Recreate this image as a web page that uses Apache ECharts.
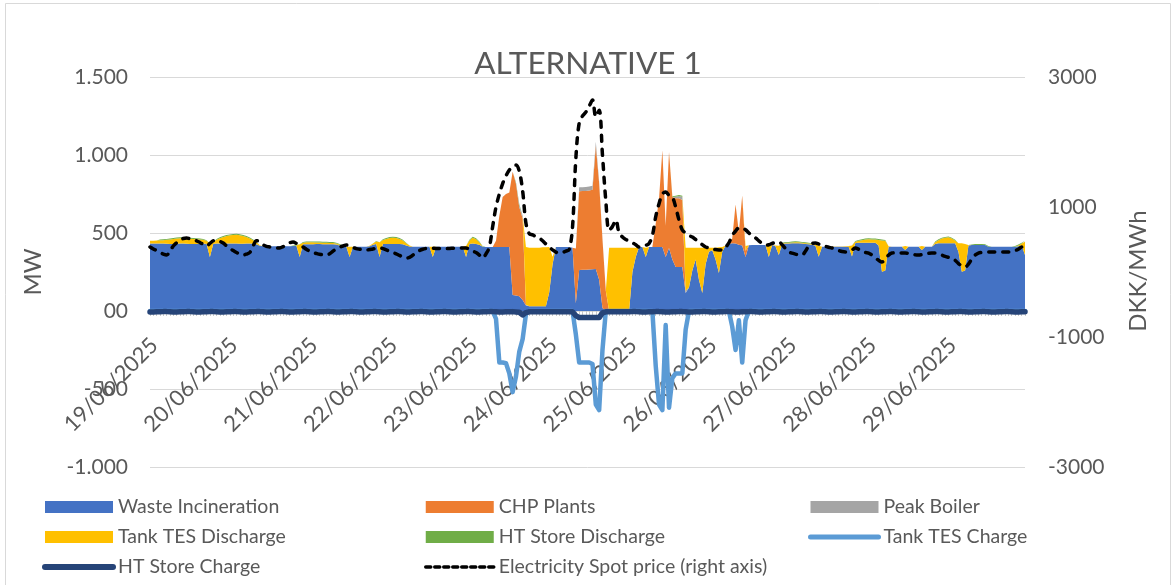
<!DOCTYPE html>
<html><head><meta charset="utf-8">
<script src="https://cdn.jsdelivr.net/npm/echarts@6/dist/echarts.min.js"></script>
<style>html,body{margin:0;padding:0;background:#fff}#c{width:1176px;height:585px}</style>
</head><body><div id="c"></div>
<script>
// ---- DATA (hourly, 19/06/2025 00:00 .. 29/06/2025 23:00) ----
const dates = ['19/06/2025','20/06/2025','21/06/2025','22/06/2025','23/06/2025','24/06/2025','25/06/2025','26/06/2025','27/06/2025','28/06/2025','29/06/2025'];
const leftTicks = [-1000,-500,0,500,1000,1500];
const rightTicks = [-3000,-1000,1000,3000];

const wasteIncineration = [
432,432,433,433,432,431,430,430,431,432,432,431,430,430,430,431,432,430,346,430,432,432,433,433,
433,432,432,431,431,432,432,431,428,418,415,414,414,415,415,416,416,415,415,416,418,346,428,428,
428,428,429,429,428,428,428,428,426,420,415,412,346,412,412,412,412,412,415,425,430,346,430,430,
430,430,430,430,428,420,414,412,412,412,412,412,412,346,412,412,412,412,412,412,412,412,414,346,
430,432,430,425,412,410,410,410,410,410,410,410,410,103,100,95,70,35,30,30,30,30,30,30,
120,300,410,410,410,410,410,405,50,263,264,265,266,268,270,200,20,0,0,0,0,0,0,0,
0,250,346,410,410,346,410,410,410,410,410,346,404,330,282,282,282,115,150,260,330,200,115,300,
380,390,330,243,380,420,430,435,432,425,420,346,422,423,423,423,423,423,346,423,415,359,430,432,
432,434,435,434,432,430,428,425,418,348,412,412,412,412,412,412,412,412,412,350,436,438,438,438,
438,438,438,420,252,260,412,412,412,412,412,391,412,412,412,412,391,412,412,412,430,434,434,434,
434,434,434,380,252,260,420,423,423,423,423,423,412,412,412,412,412,412,412,412,412,415,420,359];

const chpPlants = [
0,0,0,0,0,0,0,0,0,0,0,0,0,0,0,0,0,0,0,0,0,0,0,0,
0,0,0,0,0,0,0,0,0,0,0,0,0,0,0,0,0,0,0,0,0,0,0,0,
0,0,0,0,0,0,0,0,0,0,0,0,0,0,0,0,0,0,0,0,0,0,0,0,
0,0,0,0,0,0,0,0,0,0,0,0,0,0,0,0,0,0,0,0,0,0,0,0,
0,0,0,0,0,0,0,0,40,200,320,340,350,790,715,570,525,0,0,0,0,0,0,0,
0,0,0,0,0,0,0,0,350,505,505,505,507,510,790,620,440,130,0,0,0,0,0,0,
0,0,0,0,0,0,0,0,150,310,620,200,615,400,440,440,430,0,0,0,0,0,0,0,
0,0,0,0,0,0,0,30,250,80,320,40,0,0,0,0,0,0,0,0,0,0,0,0,
0,0,0,0,0,0,0,0,0,0,0,0,0,0,0,0,0,0,0,0,0,0,0,0,
0,0,0,0,0,0,0,0,0,0,0,0,0,0,0,0,0,0,0,0,0,0,0,0,
0,0,0,0,0,0,0,0,0,0,0,0,0,0,0,0,0,0,0,0,0,0,0,0];

const peakBoiler = [
0,0,0,0,0,0,0,0,0,0,0,0,0,0,0,0,0,0,0,0,0,0,0,0,
0,0,0,0,0,0,0,0,0,0,0,0,0,0,0,0,0,0,0,0,0,0,0,0,
0,0,0,0,0,0,0,0,0,0,0,0,0,0,0,0,0,0,0,0,0,0,0,0,
0,0,0,0,0,0,0,0,0,0,0,0,0,0,0,0,0,0,0,0,0,0,0,0,
0,0,0,0,0,0,0,0,0,0,0,0,0,0,5,15,15,5,0,0,0,0,0,0,
0,0,0,0,0,0,0,0,0,25,25,25,25,25,25,10,5,0,0,0,0,0,0,0,
0,0,0,0,0,0,0,0,0,0,0,0,0,0,10,15,20,15,0,0,0,0,0,0,
0,0,0,0,0,0,0,0,0,0,0,0,0,0,0,0,0,0,0,0,0,0,0,0,
0,0,0,0,0,0,0,0,0,0,0,0,0,0,0,0,0,0,0,0,0,0,0,0,
0,0,0,0,0,0,0,0,0,0,0,0,0,0,0,0,0,0,0,0,0,0,0,0,
0,0,0,0,0,0,0,0,0,0,0,0,0,0,0,0,0,0,0,0,0,0,0,0];

const tankTesDischarge = [
18,18,19,20,22,25,28,32,34,34,34,33,33,32,30,28,25,20,86,10,25,35,42,48,
52,55,57,55,50,42,33,22,12,4,0,0,0,0,0,0,0,0,0,0,2,82,10,12,
12,12,10,10,10,10,8,8,6,4,0,0,66,0,0,0,0,0,3,8,15,95,25,32,
38,40,38,32,24,14,6,0,0,0,0,0,0,66,0,0,0,0,0,0,0,0,0,70,
22,38,30,15,0,0,0,0,0,0,0,0,0,0,0,0,0,370,375,375,375,375,378,378,
290,48,0,0,0,0,0,0,0,0,0,0,0,0,0,0,0,0,405,405,405,405,405,405,
405,155,60,0,0,60,0,0,0,0,0,0,0,0,0,0,0,275,255,145,75,205,290,105,
25,15,75,165,30,0,0,0,0,0,0,30,0,0,0,0,0,0,70,0,5,60,3,5,
5,5,6,6,5,5,4,5,8,70,0,0,2,2,2,2,2,3,5,70,8,12,16,20,
22,20,20,35,200,190,3,0,0,0,0,25,0,0,0,0,25,0,0,0,10,20,30,35,
38,30,18,55,182,170,3,0,0,0,0,0,0,0,0,0,0,0,0,0,0,5,12,85];

const htStoreDischarge = [
0,0,0,5,6,6,6,6,6,6,6,6,6,6,6,5,5,4,0,3,5,6,6,6,
6,6,6,6,6,6,6,5,4,0,0,0,0,0,0,0,0,0,0,4,5,0,5,6,
6,6,6,6,6,6,6,6,5,5,4,0,0,0,0,0,0,0,0,0,4,0,5,6,
6,6,6,6,5,4,0,0,0,0,0,0,0,0,0,0,0,0,0,0,0,0,0,0,
5,6,6,5,3,0,0,0,0,0,0,0,0,0,6,6,0,0,0,0,0,0,0,0,
0,0,0,0,0,0,0,0,0,0,0,0,0,0,0,0,0,0,0,0,0,0,0,0,
0,0,0,0,0,0,0,0,0,0,0,0,0,6,6,6,6,0,0,0,0,0,0,0,
0,0,0,0,0,0,0,0,0,0,0,0,0,0,0,0,0,0,0,0,0,0,4,5,
6,6,6,6,6,5,5,4,0,0,0,0,0,0,0,0,0,0,0,0,4,5,6,6,
6,6,6,6,6,5,0,0,0,0,0,0,0,0,0,0,0,0,0,0,5,6,6,6,
6,6,5,0,0,0,0,4,6,6,6,5,4,0,0,0,0,0,0,0,4,6,6,6];

const tankTesCharge = [
0,0,0,0,0,0,0,0,0,0,0,0,0,0,0,0,0,0,0,0,0,0,0,0,
0,0,0,0,0,0,0,0,0,0,0,0,0,0,0,0,0,0,0,0,0,0,0,0,
0,0,0,0,0,0,0,0,0,0,0,0,0,0,0,0,0,0,0,0,0,0,0,0,
0,0,0,0,0,0,0,0,0,0,0,0,0,0,0,0,0,0,0,0,0,0,0,0,
0,0,0,0,0,0,0,0,-50,-330,-330,-335,-400,-520,-420,-260,-180,-20,0,0,0,0,0,0,
0,0,0,0,0,0,0,0,-150,-330,-330,-330,-330,-340,-600,-635,-250,0,0,0,0,0,0,0,
0,0,0,0,0,0,0,0,-350,-600,-635,-90,-620,-430,-400,-400,-400,-120,0,0,0,0,0,0,
0,0,0,0,0,0,0,-100,-250,-60,-330,-60,0,0,0,0,0,0,0,0,0,0,0,0,
0,0,0,0,0,0,0,0,0,0,0,0,0,0,0,0,0,0,0,0,0,0,0,0,
0,0,0,0,0,0,0,0,0,0,0,0,0,0,0,0,0,0,0,0,0,0,0,0,
0,0,0,0,0,0,0,0,0,0,0,0,0,0,0,0,0,0,0,0,0,0,0,0];

const htStoreCharge = [
-6,-6,-5,-5,-4,-4,-5,-6,-6,-5,-5,-4,-4,-5,-6,-6,-5,-5,-4,-4,-5,-6,-6,-5,
-5,-4,-4,-5,-6,-6,-5,-5,-4,-4,-5,-6,-6,-5,-5,-4,-4,-5,-6,-6,-5,-5,-4,-4,
-5,-6,-6,-5,-5,-4,-4,-5,-6,-6,-5,-5,-4,-4,-5,-6,-6,-5,-5,-4,-4,-5,-6,-6,
-5,-5,-4,-4,-5,-6,-6,-5,-5,-4,-4,-5,-6,-6,-5,-5,-4,-4,-5,-6,-6,-5,-5,-4,
-4,-5,-6,-6,-5,-5,-4,-4,-5,-6,-6,-5,-5,-4,-6,-8,-25,-10,-5,-5,-5,-5,-5,-5,
-5,-5,-5,-5,-5,-5,-5,-5,-30,-42,-42,-42,-42,-42,-42,-42,-12,-5,-5,-5,-5,-5,-5,-5,
-5,-4,-4,-5,-6,-6,-5,-5,-4,-4,-5,-6,-6,-5,-5,-4,-4,-5,-6,-6,-5,-5,-4,-4,
-5,-6,-6,-5,-5,-4,-4,-5,-6,-6,-5,-5,-4,-4,-5,-6,-6,-5,-5,-4,-4,-5,-6,-6,
-5,-5,-4,-4,-5,-6,-6,-5,-5,-4,-4,-5,-6,-6,-5,-5,-4,-4,-5,-6,-6,-5,-5,-4,
-4,-5,-6,-6,-5,-5,-4,-4,-5,-6,-6,-5,-5,-4,-4,-5,-6,-6,-5,-5,-4,-4,-5,-6,
-6,-5,-5,-4,-4,-5,-6,-6,-5,-5,-4,-4,-5,-6,-6,-5,-5,-4,-4,-5,-6,-6,-5,-5];

const spotPrice = [
385,355,330,300,275,262,320,400,450,490,515,523,510,495,480,455,425,400,440,480,492,470,446,400,
360,330,300,275,262,275,300,400,480,470,420,395,385,378,372,370,390,420,450,460,440,410,385,350,
320,300,285,272,265,262,280,320,355,380,400,415,400,378,360,350,342,338,345,355,362,369,360,340,
320,300,280,255,232,215,225,260,300,330,350,362,369,366,363,361,360,360,362,365,368,369,369,369,
345,320,300,260,215,280,385,700,1000,1200,1360,1480,1570,1620,1646,1550,1250,750,590,570,545,523,480,430,
385,340,305,292,300,320,345,692,1750,2292,2400,2460,2550,2646,2385,2490,1800,1100,640,700,800,600,540,500,
480,450,420,385,395,410,440,560,850,1050,1200,1231,1180,1154,1000,800,646,600,560,538,500,470,420,385,
369,355,345,340,338,380,450,560,630,677,677,650,600,560,525,480,440,415,420,440,455,462,420,360,
308,290,275,265,262,320,400,440,446,430,410,395,380,369,350,330,315,308,320,340,369,350,320,300,
292,260,220,180,154,200,260,292,295,295,293,292,285,275,265,262,268,278,288,292,292,280,260,240,
225,215,180,130,95,77,120,200,260,292,300,305,308,308,308,308,308,308,308,315,330,350,385,400];

// ---- BUILD ----
const categories = [];
dates.forEach(d => { for (let h = 0; h < 24; h++) categories.push(d + ' ' + String(h).padStart(2,'0') + ':00'); });

const FONT = 'Lato';
const TXT = '#595959';
function fmtLeft(v){
  if (v === 0) return '00';
  const a = Math.abs(v);
  const s = a >= 1000 ? Math.floor(a/1000) + '.' + String(a % 1000).padStart(3,'0') : String(a);
  return (v < 0 ? '-' : '') + s;
}
function area(name, data, color){
  return {name, type:'line', stack:'heat', data, symbol:'none', showSymbol:false,
    lineStyle:{width:0}, itemStyle:{color}, areaStyle:{color, opacity:1},
    emphasis:{disabled:true}, yAxisIndex:0};
}
const GRID_TOP = 77, GRID_BOTTOM_PX = 467, ZERO_PX = 311;
const chart = echarts.init(document.getElementById('c'), null, {renderer:'canvas'});
const legendText = {fontFamily:FONT, fontSize:19.5, color:TXT};
const legendCommon = {orient:'vertical', itemWidth:68, itemHeight:12, itemGap:10, top:497, padding:0,
  textStyle:legendText, selectedMode:false};
const lineLegend = (name, w, extra) => Object.assign({name, itemStyle:{opacity:0}, lineStyle:Object.assign({width:w, cap:'round'}, extra||{})});
chart.setOption({
  animation:false,
  backgroundColor:'#fff',
  title:{text:'ALTERNATIVE 1', left:'center', top:43,
    textStyle:{fontFamily:FONT, fontSize:31.5, fontWeight:'normal', color:TXT}},
  grid:{left:150, right:151, top:GRID_TOP, bottom:585-GRID_BOTTOM_PX, containLabel:false, outerBoundsMode:'none'},
  legend:[
    Object.assign({left:42, data:[{name:'Waste Incineration',icon:'rect'},{name:'Tank TES Discharge',icon:'rect'},lineLegend('HT Store Charge',6)]}, legendCommon),
    Object.assign({left:424, data:[{name:'CHP Plants',icon:'rect'},{name:'HT Store Discharge',icon:'rect'},lineLegend('Electricity Spot price (right axis)',3.5,{type:[5,4]})]}, legendCommon),
    Object.assign({left:808, data:[{name:'Peak Boiler',icon:'rect'},lineLegend('Tank TES Charge',5)]}, legendCommon)
  ],
  xAxis:{type:'category', data:categories, boundaryGap:false, position:'bottom',
    offset:-(GRID_BOTTOM_PX-ZERO_PX),
    axisLine:{show:true, onZero:false, lineStyle:{color:'#D9D9D9', width:1}},
    axisTick:{show:true, interval:0, length:5, lineStyle:{color:'#C8C8C8'}},
    axisLabel:{interval:23, rotate:45, margin:35, padding:[0,-6,0,0], fontFamily:FONT, fontSize:22, color:TXT,
      formatter:v => v.split(' ')[0]},
    splitLine:{show:false}},
  yAxis:[
    {type:'value', min:leftTicks[0], max:leftTicks[leftTicks.length-1], interval:500,
      axisLine:{show:false}, axisTick:{show:false},
      axisLabel:{formatter:fmtLeft, fontFamily:FONT, fontSize:21, color:TXT, margin:22},
      splitLine:{lineStyle:{color:'#D9D9D9', width:1}}},
    {type:'value', min:rightTicks[0], max:rightTicks[rightTicks.length-1], interval:2000,
      axisLine:{show:false}, axisTick:{show:false},
      axisLabel:{fontFamily:FONT, fontSize:21, color:TXT, margin:23, formatter:v => String(v)},
      splitLine:{show:false}}
  ],
  graphic:[
    {type:'rect', shape:{x:5.5, y:3.5, width:1165, height:620}, style:{fill:'none', stroke:'#D9D9D9', lineWidth:1}, silent:true},
    {type:'text', x:33, y:272, rotation:Math.PI/2, style:{text:'MW', font:'24px Lato', fill:TXT, align:'center', verticalAlign:'middle'}},
    {type:'text', x:1138, y:271, rotation:Math.PI/2, style:{text:'DKK/MWh', font:'24px Lato', fill:TXT, align:'center', verticalAlign:'middle'}}
  ],
  series:[
    area('Waste Incineration', wasteIncineration, '#4472C4'),
    area('CHP Plants', chpPlants, '#ED7D31'),
    area('Peak Boiler', peakBoiler, '#A5A5A5'),
    area('Tank TES Discharge', tankTesDischarge, '#FFC000'),
    area('HT Store Discharge', htStoreDischarge, '#70AD47'),
    {name:'Tank TES Charge', type:'line', data:tankTesCharge, symbol:'none', yAxisIndex:0,
      itemStyle:{color:'#5B9BD5'}, lineStyle:{color:'#5B9BD5', width:4.5, cap:'round', join:'round'}, emphasis:{disabled:true}},
    {name:'HT Store Charge', type:'line', data:htStoreCharge, symbol:'none', yAxisIndex:0,
      itemStyle:{color:'#264478'}, lineStyle:{color:'#264478', width:5.5, cap:'round', join:'round'}, emphasis:{disabled:true}},
    {name:'Electricity Spot price (right axis)', type:'line', data:spotPrice, symbol:'none', yAxisIndex:1, smooth:0.35,
      itemStyle:{color:'#000'}, lineStyle:{color:'#000', width:3.5, type:[6,8], cap:'round'}, emphasis:{disabled:true}}
  ]
});
</script></body></html>
